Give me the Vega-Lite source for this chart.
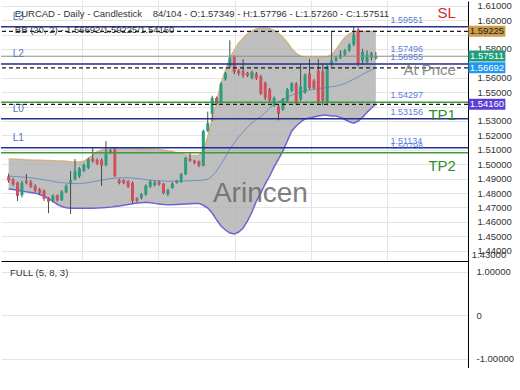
{
"$schema": "https://vega.github.io/schema/vega-lite/v6.json",
"padding": 0,
"background": "white",
"spacing": 0,
"config": {
  "view": {"stroke": null},
  "font": "Liberation Sans",
  "axis": {"labelFont": "Liberation Sans", "labelColor": "#333333", "labelFontSize": 9.5, "gridColor": "#e4e4e4", "gridWidth": 1, "domainColor": "#000000", "domainWidth": 1, "ticks": false, "labelOverlap": false}
},
"datasets": {
  "c": [
    {"i":0,"o":1.4915,"h":1.4935,"l":1.4870,"c":1.4885,"bu":1.5036,"bm":1.4918,"bl":1.4828},
    {"i":1,"o":1.4895,"h":1.4905,"l":1.4850,"c":1.4860,"bu":1.5035,"bm":1.4916,"bl":1.4824},
    {"i":2,"o":1.4870,"h":1.4880,"l":1.4745,"c":1.4780,"bu":1.5034,"bm":1.4913,"bl":1.4819},
    {"i":3,"o":1.4785,"h":1.4885,"l":1.4770,"c":1.4870,"bu":1.5032,"bm":1.4911,"bl":1.4813},
    {"i":4,"o":1.4885,"h":1.4932,"l":1.4860,"c":1.4870,"bu":1.5030,"bm":1.4909,"bl":1.4808},
    {"i":5,"o":1.4875,"h":1.4890,"l":1.4835,"c":1.4845,"bu":1.5029,"bm":1.4906,"bl":1.4804},
    {"i":6,"o":1.4850,"h":1.4860,"l":1.4805,"c":1.4815,"bu":1.5028,"bm":1.4902,"bl":1.4799},
    {"i":7,"o":1.4825,"h":1.4835,"l":1.4790,"c":1.4800,"bu":1.5027,"bm":1.4897,"bl":1.4790},
    {"i":8,"o":1.4815,"h":1.4825,"l":1.4745,"c":1.4760,"bu":1.5026,"bm":1.4892,"bl":1.4778},
    {"i":9,"o":1.4760,"h":1.4770,"l":1.4660,"c":1.4740,"bu":1.5025,"bm":1.4887,"bl":1.4762},
    {"i":10,"o":1.4745,"h":1.4790,"l":1.4735,"c":1.4780,"bu":1.5024,"bm":1.4881,"bl":1.4742},
    {"i":11,"o":1.4785,"h":1.4790,"l":1.4740,"c":1.4750,"bu":1.5023,"bm":1.4876,"bl":1.4722},
    {"i":12,"o":1.4750,"h":1.4820,"l":1.4745,"c":1.4810,"bu":1.5022,"bm":1.4872,"bl":1.4706},
    {"i":13,"o":1.4805,"h":1.4860,"l":1.4800,"c":1.4850,"bu":1.5020,"bm":1.4869,"bl":1.4698},
    {"i":14,"o":1.4870,"h":1.4953,"l":1.4654,"c":1.4890,"bu":1.5017,"bm":1.4866,"bl":1.4695},
    {"i":15,"o":1.4895,"h":1.5036,"l":1.4888,"c":1.4950,"bu":1.5015,"bm":1.4865,"bl":1.4694},
    {"i":16,"o":1.4915,"h":1.4980,"l":1.4905,"c":1.4970,"bu":1.5016,"bm":1.4866,"bl":1.4694},
    {"i":17,"o":1.4955,"h":1.5005,"l":1.4945,"c":1.4995,"bu":1.5020,"bm":1.4868,"bl":1.4694},
    {"i":18,"o":1.4975,"h":1.5045,"l":1.4965,"c":1.5035,"bu":1.5040,"bm":1.4872,"bl":1.4695},
    {"i":19,"o":1.5040,"h":1.5119,"l":1.5010,"c":1.5020,"bu":1.5062,"bm":1.4878,"bl":1.4695},
    {"i":20,"o":1.5030,"h":1.5040,"l":1.4995,"c":1.5005,"bu":1.5085,"bm":1.4884,"bl":1.4696},
    {"i":21,"o":1.5030,"h":1.5040,"l":1.4850,"c":1.4990,"bu":1.5098,"bm":1.4890,"bl":1.4697},
    {"i":22,"o":1.4995,"h":1.5160,"l":1.4985,"c":1.5070,"bu":1.5104,"bm":1.4895,"bl":1.4699},
    {"i":23,"o":1.5080,"h":1.5105,"l":1.5070,"c":1.5095,"bu":1.5108,"bm":1.4900,"bl":1.4702},
    {"i":24,"o":1.5100,"h":1.5112,"l":1.4910,"c":1.4920,"bu":1.5110,"bm":1.4903,"bl":1.4706},
    {"i":25,"o":1.4890,"h":1.4900,"l":1.4860,"c":1.4870,"bu":1.5110,"bm":1.4905,"bl":1.4710},
    {"i":26,"o":1.4890,"h":1.4895,"l":1.4860,"c":1.4870,"bu":1.5110,"bm":1.4906,"bl":1.4715},
    {"i":27,"o":1.4880,"h":1.4890,"l":1.4835,"c":1.4845,"bu":1.5110,"bm":1.4906,"bl":1.4720},
    {"i":28,"o":1.4870,"h":1.4880,"l":1.4730,"c":1.4745,"bu":1.5109,"bm":1.4904,"bl":1.4726},
    {"i":29,"o":1.4762,"h":1.4770,"l":1.4735,"c":1.4748,"bu":1.5108,"bm":1.4901,"bl":1.4730},
    {"i":30,"o":1.4765,"h":1.4800,"l":1.4755,"c":1.4790,"bu":1.5107,"bm":1.4897,"bl":1.4733},
    {"i":31,"o":1.4790,"h":1.4860,"l":1.4780,"c":1.4850,"bu":1.5106,"bm":1.4893,"bl":1.4735},
    {"i":32,"o":1.4845,"h":1.4890,"l":1.4835,"c":1.4880,"bu":1.5105,"bm":1.4890,"bl":1.4733},
    {"i":33,"o":1.4855,"h":1.4885,"l":1.4845,"c":1.4875,"bu":1.5104,"bm":1.4887,"bl":1.4728},
    {"i":34,"o":1.4875,"h":1.4885,"l":1.4850,"c":1.4860,"bu":1.5102,"bm":1.4885,"bl":1.4724},
    {"i":35,"o":1.4865,"h":1.4870,"l":1.4790,"c":1.4800,"bu":1.5099,"bm":1.4883,"bl":1.4720},
    {"i":36,"o":1.4790,"h":1.4830,"l":1.4780,"c":1.4820,"bu":1.5094,"bm":1.4882,"bl":1.4718},
    {"i":37,"o":1.4835,"h":1.4875,"l":1.4830,"c":1.4865,"bu":1.5088,"bm":1.4882,"bl":1.4718},
    {"i":38,"o":1.4870,"h":1.4890,"l":1.4865,"c":1.4885,"bu":1.5080,"bm":1.4882,"bl":1.4720},
    {"i":39,"o":1.4880,"h":1.4940,"l":1.4870,"c":1.4930,"bu":1.5072,"bm":1.4882,"bl":1.4722},
    {"i":40,"o":1.4930,"h":1.5050,"l":1.4925,"c":1.5045,"bu":1.5066,"bm":1.4884,"bl":1.4724},
    {"i":41,"o":1.5040,"h":1.5080,"l":1.5015,"c":1.5025,"bu":1.5062,"bm":1.4885,"bl":1.4726},
    {"i":42,"o":1.5025,"h":1.5030,"l":1.5000,"c":1.5010,"bu":1.5060,"bm":1.4886,"bl":1.4728},
    {"i":43,"o":1.5020,"h":1.5025,"l":1.4980,"c":1.4990,"bu":1.5062,"bm":1.4887,"bl":1.4728},
    {"i":44,"o":1.4990,"h":1.5240,"l":1.4985,"c":1.5230,"bu":1.5090,"bm":1.4890,"bl":1.4715},
    {"i":45,"o":1.5230,"h":1.5365,"l":1.5225,"c":1.5285,"bu":1.5190,"bm":1.4895,"bl":1.4696},
    {"i":46,"o":1.5350,"h":1.5475,"l":1.5300,"c":1.5460,"bu":1.5310,"bm":1.4918,"bl":1.4661},
    {"i":47,"o":1.5460,"h":1.5470,"l":1.5410,"c":1.5420,"bu":1.5430,"bm":1.4953,"bl":1.4613},
    {"i":48,"o":1.5430,"h":1.5570,"l":1.5420,"c":1.5560,"bu":1.5560,"bm":1.5001,"bl":1.4571},
    {"i":49,"o":1.5590,"h":1.5640,"l":1.5580,"c":1.5630,"bu":1.5650,"bm":1.5050,"bl":1.4543},
    {"i":50,"o":1.5680,"h":1.5860,"l":1.5670,"c":1.5740,"bu":1.5735,"bm":1.5106,"bl":1.4522},
    {"i":51,"o":1.5745,"h":1.5755,"l":1.5625,"c":1.5640,"bu":1.5790,"bm":1.5147,"bl":1.4515},
    {"i":52,"o":1.5650,"h":1.5660,"l":1.5615,"c":1.5630,"bu":1.5840,"bm":1.5189,"bl":1.4529},
    {"i":53,"o":1.5645,"h":1.5730,"l":1.5600,"c":1.5615,"bu":1.5875,"bm":1.5224,"bl":1.4557},
    {"i":54,"o":1.5635,"h":1.5640,"l":1.5605,"c":1.5615,"bu":1.5905,"bm":1.5258,"bl":1.4606},
    {"i":55,"o":1.5600,"h":1.5650,"l":1.5590,"c":1.5640,"bu":1.5925,"bm":1.5286,"bl":1.4668},
    {"i":56,"o":1.5630,"h":1.5640,"l":1.5585,"c":1.5595,"bu":1.5938,"bm":1.5314,"bl":1.4744},
    {"i":57,"o":1.5610,"h":1.5620,"l":1.5480,"c":1.5490,"bu":1.5945,"bm":1.5330,"bl":1.4800},
    {"i":58,"o":1.5565,"h":1.5575,"l":1.5445,"c":1.5460,"bu":1.5946,"bm":1.5360,"bl":1.4863},
    {"i":59,"o":1.5520,"h":1.5530,"l":1.5430,"c":1.5440,"bu":1.5940,"bm":1.5390,"bl":1.4918},
    {"i":60,"o":1.5415,"h":1.5470,"l":1.5400,"c":1.5460,"bu":1.5928,"bm":1.5415,"bl":1.4981},
    {"i":61,"o":1.5400,"h":1.5410,"l":1.5305,"c":1.5350,"bu":1.5908,"bm":1.5435,"bl":1.5036},
    {"i":62,"o":1.5380,"h":1.5460,"l":1.5370,"c":1.5450,"bu":1.5880,"bm":1.5450,"bl":1.5092},
    {"i":63,"o":1.5440,"h":1.5530,"l":1.5430,"c":1.5520,"bu":1.5845,"bm":1.5465,"bl":1.5161},
    {"i":64,"o":1.5510,"h":1.5570,"l":1.5500,"c":1.5560,"bu":1.5800,"bm":1.5480,"bl":1.5231},
    {"i":65,"o":1.5560,"h":1.5570,"l":1.5410,"c":1.5420,"bu":1.5770,"bm":1.5490,"bl":1.5265},
    {"i":66,"o":1.5450,"h":1.5700,"l":1.5440,"c":1.5540,"bu":1.5750,"bm":1.5500,"bl":1.5293},
    {"i":67,"o":1.5500,"h":1.5630,"l":1.5490,"c":1.5620,"bu":1.5742,"bm":1.5508,"bl":1.5314},
    {"i":68,"o":1.5630,"h":1.5730,"l":1.5520,"c":1.5530,"bu":1.5740,"bm":1.5515,"bl":1.5321},
    {"i":69,"o":1.5580,"h":1.5590,"l":1.5520,"c":1.5530,"bu":1.5740,"bm":1.5520,"bl":1.5328},
    {"i":70,"o":1.5650,"h":1.5730,"l":1.5415,"c":1.5425,"bu":1.5740,"bm":1.5525,"bl":1.5335},
    {"i":71,"o":1.5645,"h":1.5700,"l":1.5410,"c":1.5440,"bu":1.5740,"bm":1.5530,"bl":1.5340},
    {"i":72,"o":1.5430,"h":1.5690,"l":1.5410,"c":1.5680,"bu":1.5745,"bm":1.5533,"bl":1.5340},
    {"i":73,"o":1.5690,"h":1.5925,"l":1.5680,"c":1.5720,"bu":1.5760,"bm":1.5538,"bl":1.5335},
    {"i":74,"o":1.5720,"h":1.5750,"l":1.5710,"c":1.5740,"bu":1.5795,"bm":1.5543,"bl":1.5335},
    {"i":75,"o":1.5740,"h":1.5790,"l":1.5730,"c":1.5760,"bu":1.5840,"bm":1.5550,"bl":1.5325},
    {"i":76,"o":1.5760,"h":1.5800,"l":1.5750,"c":1.5790,"bu":1.5880,"bm":1.5560,"bl":1.5310},
    {"i":77,"o":1.5790,"h":1.5840,"l":1.5780,"c":1.5830,"bu":1.5905,"bm":1.5575,"bl":1.5295},
    {"i":78,"o":1.5830,"h":1.5960,"l":1.5820,"c":1.5900,"bu":1.5918,"bm":1.5590,"bl":1.5285},
    {"i":79,"o":1.5935,"h":1.5950,"l":1.5680,"c":1.5700,"bu":1.5922,"bm":1.5605,"bl":1.5300},
    {"i":80,"o":1.5720,"h":1.5800,"l":1.5690,"c":1.5780,"bu":1.5923,"bm":1.5625,"bl":1.5325},
    {"i":81,"o":1.5710,"h":1.5790,"l":1.5700,"c":1.5760,"bu":1.5923,"bm":1.5640,"bl":1.5360},
    {"i":82,"o":1.5740,"h":1.5780,"l":1.5720,"c":1.5770,"bu":1.5923,"bm":1.5655,"bl":1.5390},
    {"i":83,"o":1.57349,"h":1.57796,"l":1.57260,"c":1.57511,"bu":1.59225,"bm":1.56692,"bl":1.54160}
  ],
  "lv": [
    {"v":1.59551,"k":"navy","lab":"L3","val":"1.59551"},
    {"v":1.59225,"k":"dash"},
    {"v":1.57496,"k":"gray","val":"1.57496"},
    {"v":1.56955,"k":"navy","lab":"L2","val":"1.56955"},
    {"v":1.56692,"k":"dash"},
    {"v":1.54297,"k":"green","val":"1.54297"},
    {"v":1.54160,"k":"dash"},
    {"v":1.53156,"k":"navy","lab":"L0","val":"1.53156"},
    {"v":1.51134,"k":"navy","lab":"L1","val":"1.51134"},
    {"v":1.50798,"k":"green","val":"1.50798"}
  ],
  "ann": [
    {"t":"SL","p":1.6050},
    {"t":"At Price","p":1.5654},
    {"t":"TP1","p":1.5341},
    {"t":"TP2","p":1.4987}
  ],
  "hd": [
    {"t":"EURCAD - Daily - Candlestick\u00a0\u00a0\u00a0 84/104 - O:1.57349 - H:1.57796 - L:1.57260 - C:1.57511","p":1.6045},
    {"t":"BB (20, 2) - 1.56692/1.59225/1.54160","p":1.59295}
  ],
  "wm": [{"t":"Arincen","p":1.4793}],
  "ax": [{"t":"1.43000","p":1.4369}],
  "tg": [
    {"v":1.59225,"k":"u","t":"1.59225"},
    {"v":1.57511,"k":"c","t":"1.57511"},
    {"v":1.56692,"k":"m","t":"1.56692"},
    {"v":1.54160,"k":"l","t":"1.54160"}
  ],
  "osc": [{"i":1.4,"v":0.98,"t":"FULL (5, 8, 3)"}]
},
"vconcat": [
  {
    "width": 467,
    "height": 260,
    "resolve": {"scale": {"color": "independent"}},
    "layer": [
      {
        "data": {"name": "c"},
        "mark": {"type": "area", "color": "#b4b4b4", "opacity": 0.85},
        "encoding": {
          "x": {"field": "i", "type": "quantitative", "title": null,
                "scale": {"domain": [-0.6, 102.7], "nice": false, "zero": false},
                "axis": {"orient": "bottom", "values": [16.6, 33.85, 51.06, 68.27, 85.5], "tickCount": 40, "labels": false, "ticks": false, "grid": true, "domain": true, "title": null}},
          "y": {"field": "bu", "type": "quantitative", "title": null,
                "scale": {"domain": [1.4328, 1.6133], "nice": false, "zero": false},
                "axis": {"orient": "right", "title": null, "grid": true, "labelPadding": 9, "labelOverlap": false, "tickCount": 40,
                         "values": [1.44,1.45,1.46,1.47,1.48,1.49,1.50,1.51,1.52,1.53,1.54,1.55,1.56,1.57,1.58,1.59,1.60,1.61],
                         "labelExpr": "(abs(datum.value-1.59)<0.001||abs(datum.value-1.57)<0.001||abs(datum.value-1.54)<0.001)?'':format(datum.value,'.5f')"}},
          "y2": {"field": "bl"}
        }
      },
      {
        "data": {"name": "c"},
        "mark": {"type": "line", "color": "#d2b483", "strokeWidth": 1.5},
        "encoding": {"x": {"field": "i", "type": "quantitative"}, "y": {"field": "bu", "type": "quantitative"}}
      },
      {
        "data": {"name": "c"},
        "mark": {"type": "line", "color": "#6c63d6", "strokeWidth": 1.5},
        "encoding": {"x": {"field": "i", "type": "quantitative"}, "y": {"field": "bl", "type": "quantitative"}}
      },
      {
        "data": {"name": "c"},
        "mark": {"type": "line", "color": "#6f8fc4", "strokeWidth": 1},
        "encoding": {"x": {"field": "i", "type": "quantitative"}, "y": {"field": "bm", "type": "quantitative"}}
      },
      {
        "data": {"name": "wm"},
        "mark": {"type": "text", "align": "center", "baseline": "middle", "fontSize": 28, "color": "#6a6a6a", "opacity": 0.85},
        "encoding": {"x": {"datum": 56.9, "type": "quantitative"}, "y": {"field": "p", "type": "quantitative"}, "text": {"field": "t"}}
      },
      {
        "data": {"name": "c"},
        "mark": {"type": "rule", "color": "#4a4a4a", "strokeWidth": 1},
        "encoding": {"x": {"field": "i", "type": "quantitative"}, "y": {"field": "l", "type": "quantitative"}, "y2": {"field": "h"}}
      },
      {
        "data": {"name": "c"},
        "mark": {"type": "bar", "width": 3},
        "encoding": {
          "x": {"field": "i", "type": "quantitative"},
          "y": {"field": "o", "type": "quantitative"},
          "y2": {"field": "c"},
          "color": {"condition": {"test": "datum.c >= datum.o", "value": "#2a9f7f"}, "value": "#d24f5e"}
        }
      },
      {
        "data": {"name": "lv"},
        "transform": [{"filter": "datum.k == 'gray'"}],
        "mark": {"type": "rule", "color": "#8c8c8c", "strokeWidth": 1},
        "encoding": {"y": {"field": "v", "type": "quantitative"}}
      },
      {
        "data": {"name": "lv"},
        "transform": [{"filter": "datum.k == 'navy' || datum.k == 'green'"}],
        "mark": {"type": "rule", "strokeWidth": 1.5},
        "encoding": {
          "y": {"field": "v", "type": "quantitative"},
          "color": {"field": "k", "type": "nominal", "scale": {"domain": ["navy", "green"], "range": ["#26308e", "#3d9a3d"]}, "legend": null}
        }
      },
      {
        "data": {"name": "lv"},
        "transform": [{"filter": "datum.k == 'dash'"}],
        "mark": {"type": "rule", "color": "#1a1a1a", "strokeWidth": 1.2, "strokeDash": [4, 3]},
        "encoding": {"y": {"field": "v", "type": "quantitative"}}
      },
      {
        "data": {"name": "lv"},
        "transform": [{"filter": "isValid(datum.val)"}],
        "mark": {"type": "text", "align": "left", "baseline": "middle", "dy": -7, "fontSize": 9, "color": "#5b7dd8"},
        "encoding": {"x": {"datum": 86.3, "type": "quantitative"}, "y": {"field": "v", "type": "quantitative"}, "text": {"field": "val"}}
      },
      {
        "data": {"name": "lv"},
        "transform": [{"filter": "isValid(datum.lab)"}],
        "mark": {"type": "text", "align": "left", "baseline": "middle", "dy": -10, "fontSize": 10, "color": "#5470d0"},
        "encoding": {"x": {"datum": 0.9, "type": "quantitative"}, "y": {"field": "v", "type": "quantitative"}, "text": {"field": "lab"}}
      },
      {
        "data": {"name": "ann"},
        "mark": {"type": "text", "align": "right", "baseline": "middle", "fontSize": 15},
        "encoding": {
          "x": {"datum": 101.1, "type": "quantitative"},
          "y": {"field": "p", "type": "quantitative"},
          "text": {"field": "t"},
          "color": {"field": "t", "type": "nominal", "scale": {"domain": ["SL", "At Price", "TP1", "TP2"], "range": ["#d42b2b", "#8a8a8a", "#2f8f2f", "#2f8f2f"]}, "legend": null}
        }
      },
      {
        "data": {"name": "hd"},
        "mark": {"type": "text", "align": "left", "baseline": "middle", "fontSize": 9.5, "color": "#333333"},
        "encoding": {"x": {"datum": 1.4, "type": "quantitative"}, "y": {"field": "p", "type": "quantitative"}, "text": {"field": "t"}}
      },
      {
        "data": {"name": "ax"},
        "mark": {"type": "text", "align": "left", "baseline": "middle", "fontSize": 9.5, "color": "#333333"},
        "encoding": {"x": {"datum": 104.7, "type": "quantitative"}, "y": {"field": "p", "type": "quantitative"}, "text": {"field": "t"}}
      },
      {
        "data": {"name": "tg"},
        "mark": {"type": "rect", "width": 37, "height": 11},
        "encoding": {
          "x": {"datum": 108.1, "type": "quantitative"},
          "y": {"field": "v", "type": "quantitative"},
          "color": {"field": "k", "type": "nominal", "scale": {"domain": ["u", "c", "m", "l"], "range": ["#cf9c48", "#1f9f7b", "#2196f3", "#5b3ed8"]}, "legend": null}
        }
      },
      {
        "data": {"name": "tg"},
        "mark": {"type": "text", "align": "center", "baseline": "middle", "fontSize": 9.5},
        "encoding": {
          "x": {"datum": 108.1, "type": "quantitative"},
          "y": {"field": "v", "type": "quantitative"},
          "text": {"field": "t"},
          "color": {"condition": {"test": "datum.k == 'u'", "value": "#222222"}, "value": "#ffffff"}
        }
      }
    ]
  },
  {
    "width": 467,
    "height": 107,
    "data": {"name": "osc"},
    "mark": {"type": "text", "align": "left", "baseline": "middle", "fontSize": 9.5, "color": "#333333"},
    "encoding": {
      "x": {"field": "i", "type": "quantitative", "title": null,
            "scale": {"domain": [-0.6, 102.7], "nice": false, "zero": false},
            "axis": {"orient": "bottom", "labels": false, "ticks": false, "grid": false, "domain": true, "title": null}},
      "y": {"field": "v", "type": "quantitative", "title": null,
            "scale": {"domain": [-1.21, 1.25], "nice": false, "zero": false},
            "axis": {"orient": "right", "title": null, "grid": true, "labelPadding": 8, "labelOverlap": false, "tickCount": 10, "values": [-1, 0, 1],
                     "labelExpr": "datum.value == 0 ? '0' : (datum.value < 0 ? '-' + format(-datum.value, '.5f') : format(datum.value, '.5f'))"}},
      "text": {"field": "t"}
    }
  }
]
}
